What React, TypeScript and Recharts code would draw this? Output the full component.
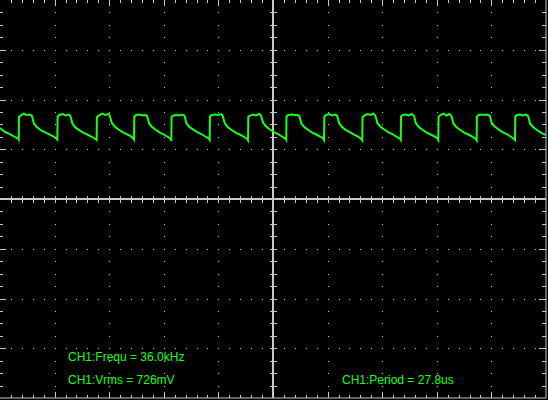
import {
  ComposedChart,
  Line,
  ReferenceLine,
  Scatter,
  XAxis,
  YAxis,
} from "recharts";

// scope settings: 40 us/div across 10 divs, 500 mV/div over 8 divs
const timeDomain: [number, number] = [0, 400];
const voltDomain: [number, number] = [-2000, 2000];
const majorTimes = [40, 80, 120, 160, 240, 280, 320, 360];
const majorVolts = [-1500, -1000, -500, 500, 1000, 1500];

// CH1 trace (time in us)
const traceTimeUs = [
  0, 3.7, 7.3, 11, 13.5, 13.7,
  13.9, 15.2, 17.5, 19, 21.5, 23.2, 24.0, 24.7, 26.9, 29.8, 32.7, 35.7, 38.6, 41.4, 42.0,
  42.2, 43.5, 46, 48, 50.5, 51.5, 52.3, 53, 55.2, 58.1, 61, 64, 66.9, 69.9, 70.8,
  71.0, 72.3, 75, 77, 79.5, 80.3, 81.1, 81.8, 84, 86.9, 89.8, 92.8, 95.7, 97.7, 98.2,
  98.4, 99.7, 102, 104.5, 106.5, 107.7, 108.5, 109.2, 111.4, 114.3, 117.2, 120.2, 123.1, 125, 125.5,
  125.7, 127, 129.5, 131.5, 133.5, 135, 135.8, 136.5, 138.7, 141.6, 144.5, 147.5, 150.4, 152.8, 153.6,
  153.8, 155.1, 157.5, 159.5, 162, 163.1, 163.9, 164.6, 166.8, 169.7, 172.6, 175.6, 178.5, 181, 181.7,
  181.9, 183.2, 185.5, 187.5, 190, 191.2, 192, 192.7, 194.9, 197.8, 200.7, 203.7, 206.6, 209, 209.7,
  209.9, 211.2, 213.5, 216, 218, 219.2, 220, 220.7, 222.9, 225.8, 228.7, 231.7, 234.6, 236.8, 237.4,
  237.6, 238.9, 241, 243.5, 245.5, 246.9, 247.7, 248.4, 250.6, 253.5, 256.4, 259.4, 262.3, 264.7, 265.4,
  265.6, 266.9, 269, 271.5, 273.5, 274.9, 275.7, 276.4, 278.6, 281.5, 284.4, 287.4, 290.3, 292.9, 293.6,
  293.8, 295.1, 297.5, 299.5, 301.5, 303.1, 303.9, 304.6, 306.8, 309.7, 312.6, 315.6, 318.5, 320.5, 321.1,
  321.3, 322.6, 325, 327, 329, 330.6, 331.4, 332.1, 334.3, 337.2, 340.1, 343.1, 346, 348.5, 349.2,
  349.4, 350.7, 353, 355, 357, 358.7, 359.5, 360.2, 362.4, 365.3, 368.2, 371.2, 374.1, 376.6, 377.3,
  377.5, 378.8, 381, 383, 385.5, 386.8, 387.6, 388.3, 390.5, 393.4, 396.3, 399.3, 400,
];

// CH1 voltage in mV, same order as traceTimeUs
const traceMv = [
  714, 673, 653, 623, 603, 598,
  824, 839, 859, 844, 849, 839, 804, 764, 724, 693, 673, 653, 633, 608, 598,
  829, 844, 854, 839, 849, 834, 799, 759, 719, 693, 668, 648, 628, 603, 593,
  824, 839, 859, 844, 854, 839, 804, 769, 729, 698, 673, 653, 633, 608, 598,
  829, 844, 849, 839, 844, 834, 799, 759, 724, 693, 668, 648, 623, 603, 583,
  824, 839, 844, 839, 849, 839, 804, 764, 724, 698, 673, 653, 628, 608, 593,
  829, 844, 849, 844, 854, 839, 799, 764, 724, 693, 668, 648, 628, 603, 588,
  824, 839, 849, 839, 854, 839, 804, 769, 729, 698, 673, 653, 628, 608, 593,
  829, 844, 849, 844, 844, 834, 799, 759, 724, 693, 668, 648, 628, 608, 593,
  829, 844, 854, 839, 849, 839, 804, 764, 724, 693, 673, 648, 628, 603, 588,
  824, 839, 854, 844, 859, 839, 804, 764, 729, 698, 673, 653, 628, 608, 593,
  829, 844, 849, 839, 854, 839, 804, 764, 724, 693, 668, 648, 628, 608, 593,
  824, 844, 859, 839, 854, 839, 799, 759, 724, 693, 668, 648, 628, 603, 588,
  829, 844, 849, 844, 849, 839, 804, 764, 729, 698, 673, 653, 628, 603, 593,
  829, 844, 849, 839, 849, 834, 799, 759, 724, 693, 668, 648, 643,
];

const readouts = [
  { label: "CH1:Frequ = 36.0kHz", x: 68, y: 361 },
  { label: "CH1:Vrms = 726mV", x: 68, y: 384 },
  { label: "CH1:Period = 27.8us", x: 342, y: 384 },
];

const TRACE = "#1aff1a";
const GRID = "#c8c8c8";

const trace = traceTimeUs.map((t, i) => ({ t, v: traceMv[i] }));

type Decor = { t: number; v: number; kind: string };

// graticule dots + edge / centre tick marks
function buildDecor(): Decor[] {
  const pts: Decor[] = [];
  for (const t of majorTimes) {
    for (let j = 1; j < 32; j++) pts.push({ t, v: -2000 + 125 * j, kind: "dot" });
  }
  for (const v of majorVolts) {
    for (let i = 1; i < 50; i++) pts.push({ t: 8 * i, v, kind: "dot" });
  }
  for (let i = 1; i < 50; i++) {
    const major = i % 5 === 0;
    pts.push({ t: 8 * i, v: 2000, kind: major ? "topMajor" : "top" });
    pts.push({ t: 8 * i, v: -2000, kind: major ? "bottomMajor" : "bottom" });
    if (i !== 25) pts.push({ t: 8 * i, v: 0, kind: "crossH" });
  }
  for (let j = 1; j < 32; j++) {
    const major = j % 4 === 0;
    const v = -2000 + 125 * j;
    pts.push({ t: 0, v, kind: major ? "leftMajor" : "left" });
    pts.push({ t: 400, v, kind: major ? "rightMajor" : "right" });
    if (j !== 16) pts.push({ t: 200, v, kind: "crossV" });
  }
  return pts;
}

const decor = buildDecor();

function DecorShape(props: any) {
  const { cx, cy, payload } = props;
  const x = Math.round(cx) + 0.5;
  const y = Math.round(cy) + 0.5;
  const line = (x1: number, y1: number, x2: number, y2: number) => (
    <line
      x1={x1}
      y1={y1}
      x2={x2}
      y2={y2}
      stroke={GRID}
      strokeWidth={1}
      shapeRendering="crispEdges"
    />
  );
  switch (payload.kind) {
    case "dot":
      return <rect x={Math.round(cx)} y={Math.round(cy)} width={1} height={1} fill={GRID} />;
    case "top":
      return line(x, 0, x, 3);
    case "topMajor":
      return line(x, 0, x, 6);
    case "bottom":
      return line(x, cy, x, cy - 3);
    case "bottomMajor":
      return line(x, cy, x, cy - 6);
    case "left":
      return line(0, y, 3, y);
    case "leftMajor":
      return line(0, y, 6, y);
    case "right":
      return line(cx, y, cx - 4, y);
    case "rightMajor":
      return line(cx, y, cx - 7, y);
    case "crossH":
      return line(x, cy - 3.5, x, cy + 3.5);
    case "crossV":
      return line(cx - 3.5, y, cx + 3.5, y);
    default:
      return <g />;
  }
}

export default function App() {
  return (
    <div
      style={{
        position: "absolute",
        left: 0,
        top: 0,
        width: 548,
        height: 400,
        background: "#000",
      }}
    >
      <ComposedChart
        width={548}
        height={400}
        margin={{ top: 0, left: 0, right: 2, bottom: 2 }}
      >
        <XAxis
          type="number"
          dataKey="t"
          domain={timeDomain}
          allowDataOverflow
          hide
        />
        <YAxis
          type="number"
          dataKey="v"
          domain={voltDomain}
          allowDataOverflow
          hide
        />

        <ReferenceLine x={200} stroke={GRID} strokeWidth={2} />
        <ReferenceLine y={0} stroke={GRID} strokeWidth={2} />
        <ReferenceLine x={400} stroke={GRID} strokeWidth={1} />
        <ReferenceLine y={-2000} stroke={GRID} strokeWidth={1} />

        <Scatter
          data={decor}
          dataKey="v"
          shape={DecorShape}
          isAnimationActive={false}
        />

        <Line
          data={trace}
          dataKey="v"
          type="linear"
          stroke={TRACE}
          strokeWidth={2}
          dot={false}
          activeDot={false}
          isAnimationActive={false}
        />

        {readouts.map((r) => (
          <text
            key={r.label}
            x={r.x}
            y={r.y}
            fill={TRACE}
            fontSize={12}
            fontFamily="'Liberation Sans', Arial, sans-serif"
          >
            {r.label}
          </text>
        ))}
      </ComposedChart>
    </div>
  );
}
